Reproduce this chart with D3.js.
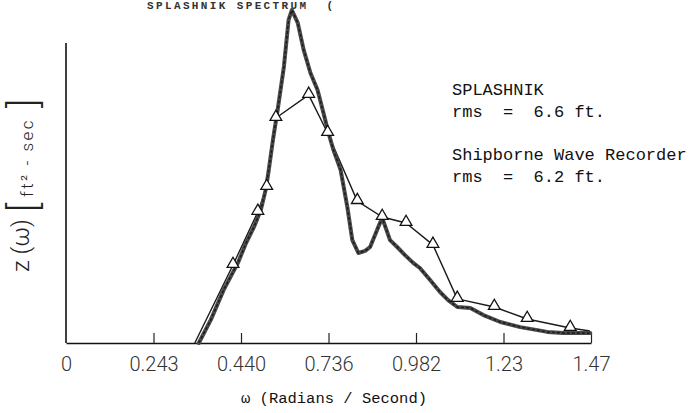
<!DOCTYPE html>
<html>
<head>
<meta charset="utf-8">
<script src="https://cdn.jsdelivr.net/npm/d3@7"></script>
<style>
  html, body { margin: 0; padding: 0; background: #fff; }
  svg { display: block; }
  text { white-space: pre; }
</style>
</head>
<body>
<script>
// ---- data ----
const tickValues = [0, 0.243, 0.440, 0.736, 0.982, 1.23, 1.47];
const tickLabels = ["0", "0.243", "0.440", "0.736", "0.982", "1.23", "1.47"];

// SPLASHNIK spectrum (thick trace), ω and spectral density (arbitrary units)
const splashOmega = [0.345, 0.372, 0.401, 0.433, 0.457, 0.484, 0.507, 0.524, 0.534, 0.548,
  0.564, 0.585, 0.601, 0.612, 0.632, 0.652, 0.675, 0.699, 0.719, 0.736,
  0.750, 0.770, 0.789, 0.803, 0.820, 0.839, 0.853, 0.876, 0.887, 0.909,
  0.929, 0.951, 0.974, 0.993, 1.022, 1.050, 1.073, 1.099, 1.136, 1.173,
  1.221, 1.276, 1.323, 1.350, 1.394, 1.440, 1.468];
const splashValue = [0, 7.7, 17.7, 26.7, 33.3, 38.7, 44.3, 51.3, 57.7, 67.7,
  77.7, 92, 107.7, 111, 106.7, 97.7, 90, 84.3, 76.7, 70,
  64.3, 57.7, 45.3, 34.3, 30, 30.7, 32, 38.7, 41.7, 34.3,
  32, 29.3, 26.7, 25, 21, 17, 14.3, 12, 11.7, 9.3,
  7, 5.3, 4.3, 3.7, 3.3, 3.3, 3.3];

// Shipborne Wave Recorder spectrum (thin line with triangles)
const shipOmega = [0.336, 0.422, 0.497, 0.527, 0.558, 0.669, 0.733, 0.817, 0.887, 0.954,
  1.030, 1.099, 1.204, 1.295, 1.413, 1.467];
const shipValue = [0, 26, 43.7, 52, 75, 82.7, 70, 47.3, 42, 40,
  32.7, 14.7, 12, 8, 5, 4];

const legendLines = ["SPLASHNIK", "rms  =  6.6 ft.", "Shipborne Wave Recorder", "rms  =  6.2 ft."];

// ---- drawing ----
const W = 696, H = 413;
const svg = d3.select("body").append("svg").attr("width", W).attr("height", H);

const x = d3.scaleLinear()
  .domain(tickValues)
  .range(tickValues.map((d, i) => 66 + i * 87.5));
const y = d3.scaleLinear().domain([0, 100]).range([343, 43]);

// title at the very top
svg.append("text")
  .attr("x", 147).attr("y", 9)
  .attr("font-family", "Liberation Mono, DejaVu Sans Mono, monospace")
  .attr("font-size", 11).attr("font-weight", "bold").attr("fill", "#333")
  .attr("textLength", 186).attr("lengthAdjust", "spacing")
  .text("SPLASHNIK SPECTRUM  (");

// y axis line
svg.append("line")
  .attr("x1", x(0)).attr("x2", x(0))
  .attr("y1", y(0)).attr("y2", y(100))
  .attr("stroke", "#111").attr("stroke-width", 1.6);

// x axis
const xAxis = d3.axisBottom(x)
  .tickValues(tickValues)
  .tickFormat((d, i) => tickLabels[i])
  .tickSizeInner(-10)
  .tickSizeOuter(0)
  .tickPadding(14);
const gx = svg.append("g").attr("transform", `translate(0,${y(0)})`).call(xAxis);
gx.select(".domain").attr("stroke", "#111").attr("stroke-width", 1.6);
gx.selectAll(".tick line").attr("stroke", "#222").attr("stroke-width", 1.2)
  .filter(d => d === 0).remove();
gx.selectAll(".tick text")
  .attr("font-family", "Roboto, Liberation Sans, sans-serif")
  .attr("font-weight", 300)
  .attr("font-size", 20)
  .attr("fill", "#333");

// x title
svg.append("text")
  .attr("x", 334).attr("y", 403)
  .attr("text-anchor", "middle")
  .attr("font-family", "Liberation Mono, DejaVu Sans Mono, monospace")
  .attr("font-size", 15.5).attr("fill", "#111")
  .text("ω (Radians / Second)");

// y title (rotated)
const gy = svg.append("g").attr("transform", "rotate(-90)");
gy.append("text")
  .attr("x", -272).attr("y", 29)
  .attr("font-family", "Roboto, DejaVu Sans, sans-serif").attr("font-weight", 300)
  .attr("font-size", 24).attr("fill", "#222")
  .text("z (ω)");
gy.append("text")
  .attr("x", -212).attr("y", 37)
  .attr("font-family", "Roboto, DejaVu Sans, sans-serif").attr("font-weight", 300)
  .attr("font-size", 38).attr("fill", "#222")
  .text("[");
gy.append("text")
  .attr("x", -197).attr("y", 33)
  .attr("font-family", "Roboto, DejaVu Sans, sans-serif").attr("font-weight", 300)
  .attr("font-size", 17).attr("letter-spacing", 2.5).attr("fill", "#222")
  .text("ft² - sec");
gy.append("text")
  .attr("x", -108).attr("y", 37)
  .attr("font-family", "Roboto, DejaVu Sans, sans-serif").attr("font-weight", 300)
  .attr("font-size", 38).attr("fill", "#222")
  .text("]");

// series
const line = d3.line().x(d => x(d[0])).y(d => y(d[1]));
const splashData = splashOmega.map((w, i) => [w, splashValue[i]]);
const shipData = shipOmega.map((w, i) => [w, shipValue[i]]);

svg.append("path").datum(shipData)
  .attr("d", line).attr("fill", "none")
  .attr("stroke", "#1a1a1a").attr("stroke-width", 1.4).attr("stroke-linejoin", "round");

svg.append("path").datum(splashData)
  .attr("d", line).attr("fill", "none")
  .attr("stroke", "#4a4a4a").attr("stroke-width", 4).attr("stroke-linejoin", "round")
  .attr("stroke-linecap", "round");
svg.append("path").datum(splashData)
  .attr("d", line).attr("fill", "none")
  .attr("stroke", "#1e1e1e").attr("stroke-width", 1.6).attr("stroke-dasharray", "3 2")
  .attr("stroke-linejoin", "round");

const tri = d3.symbol().type(d3.symbolTriangle).size(60);
svg.append("g").selectAll("path")
  .data(shipData.slice(1, shipData.length - 1))
  .join("path")
  .attr("d", tri)
  .attr("transform", d => `translate(${x(d[0])},${y(d[1]) - 1})`)
  .attr("fill", "#fff").attr("stroke", "#111").attr("stroke-width", 1.3);

// legend text
const legendY = [95, 117, 160, 182];
svg.append("g").selectAll("text")
  .data(legendLines)
  .join("text")
  .attr("x", 452).attr("y", (d, i) => legendY[i])
  .attr("font-family", "Liberation Mono, DejaVu Sans Mono, monospace")
  .attr("font-size", 17).attr("fill", "#111")
  .text(d => d);
</script>
</body>
</html>
